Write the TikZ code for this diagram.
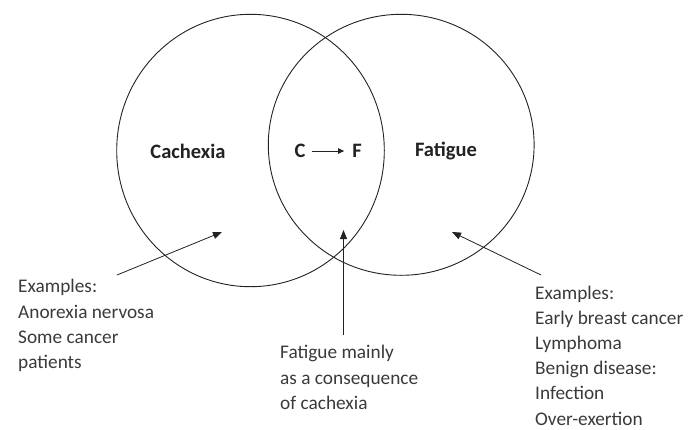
\documentclass[tikz,border=0pt]{standalone}
\usepackage{fontspec}
\setmainfont{Carlito}
\usetikzlibrary{arrows.meta}
\definecolor{ink}{HTML}{222222}
\definecolor{softink}{HTML}{3A3A3A}
\begin{document}
\begin{tikzpicture}[x=1pt,y=-1pt,
  ring/.style={draw=ink,line width=0.9pt},
  setname/.style={font=\fontsize{20.5}{24}\selectfont\bfseries,text=ink,inner sep=0pt},
  note/.style={font=\fontsize{19.3}{25.2}\selectfont,text=softink,align=left,inner sep=0pt,anchor=base west},
  pointer/.style={draw=ink,line width=0.8pt,-{Triangle[length=9pt,width=7pt]}}]
\useasboundingbox (0,0) rectangle (694,429);
% the two overlapping sets
\draw[ring] (250.5,150.5) ellipse [x radius=133.8, y radius=136.2];
\draw[ring] (401.2,144.8) ellipse [x radius=132.9, y radius=130.5];
% set labels
\node[setname] (cach) at (188,151) {Cachexia};
\node[setname] (fat) at (446,151) {Fatigue};
\node[setname] (c) at (300,151) {C};
\node[setname] (f) at (357,151) {F};
\draw[draw=ink,line width=0.8pt,-{Triangle[length=6pt,width=5.5pt]}] ([xshift=6pt]c.east) -- ([xshift=-8pt]f.west);
% explanatory notes (anchored at the baseline of their last line)
\node[note] (left) at (18,368.5) {Examples:\\Anorexia nervosa\\Some cancer\\patients};
\node[note] (mid) at (280,409.3) {Fatigue mainly\\as a consequence\\of cachexia};
\node[note] (right) at (535,425) {Examples:\\Early breast cancer\\Lymphoma\\Benign disease:\\Infection\\Over-exertion};
% pointers into the regions
\coordinate (lt) at (222,232);
\coordinate (mt) at (343.5,230);
\coordinate (rt) at (452,232);
\coordinate (ls) at (117,275);
\coordinate (ms) at (343.5,335);
\coordinate (rs) at (541,275);
\draw[pointer] (ls) -- (lt);
\draw[pointer] (ms) -- (mt);
\draw[pointer] (rs) -- (rt);
\end{tikzpicture}
\end{document}
